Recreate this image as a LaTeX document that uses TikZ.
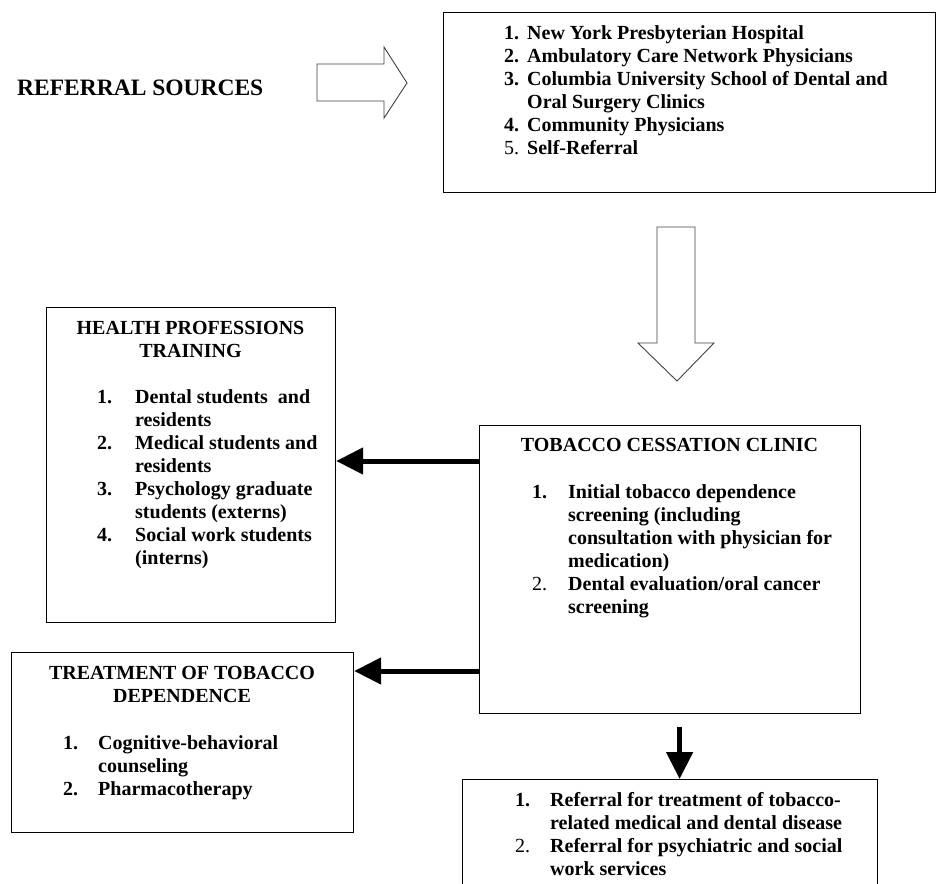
\documentclass[tikz,border=0pt]{standalone}
\usepackage{fontspec}
\setmainfont{Liberation Serif}
\usetikzlibrary{arrows.meta}

\begin{document}
\begin{tikzpicture}[
    x=1pt, y=-1pt,
    box/.style={draw, line width=1.2pt, minimum width=#1, anchor=north west, inner sep=0pt},
    txt/.style={inner sep=0pt, font=\fontsize{20}{23}\selectfont\bfseries},
    heavy/.style={line width=5pt, -{Triangle[length=27pt,width=26pt]}},
    hollow/.style={draw=black!75, line width=0.9pt, line join=miter}
]
\useasboundingbox (0,0) rectangle (938,884);
\clip (0,0) rectangle (938,884);

% Referral sources
\node[txt, anchor=base west, font=\fontsize{23.5}{27}\selectfont\bfseries] (srctitle) at (17,95) {REFERRAL SOURCES};
\draw[hollow] (317,64) -- (384,64) -- (384,47) -- (407,83) -- (384,118) -- (384,101) -- (317,101) -- cycle;
\node[box=492pt, minimum height=180pt] (src) at (443,12) {};
\node[txt, anchor=base west] (srclist) at (504,39) {\begin{tabular}[t]{@{}p{23pt}@{}l@{}}
1. & New York Presbyterian Hospital\\
2. & Ambulatory Care Network Physicians\\
3. & Columbia University School of Dental and\\
   & Oral Surgery Clinics\\
4. & Community Physicians\\
\textmd{5.} & Self-Referral
\end{tabular}};
\draw[hollow] (657,227) -- (695,227) -- (695,343) -- (714,343) -- (677,381) -- (638,343) -- (657,343) -- cycle;

% Health professions training
\node[box=289pt, minimum height=315pt] (health) at (46,307) {};
\node[txt, anchor=base] (healthtitle) at (190.5,334) {\begin{tabular}[t]{@{}c@{}}
HEALTH PROFESSIONS\\ TRAINING\end{tabular}};
\node[txt, anchor=base west] (healthlist) at (97,403) {\begin{tabular}[t]{@{}p{38pt}@{}l@{}}
1. & Dental students\ \ and\\
   & residents\\
2. & Medical students and\\
   & residents\\
3. & Psychology graduate\\
   & students (externs)\\
4. & Social work students\\
   & (interns)
\end{tabular}};

% Tobacco cessation clinic
\node[box=381pt, minimum height=288pt] (clinic) at (479,425) {};
\node[txt, anchor=base] (clinictitle) at (669.5,451) {TOBACCO CESSATION CLINIC};
\node[txt, anchor=base west] (cliniclist) at (532,498) {\begin{tabular}[t]{@{}p{36pt}@{}l@{}}
1. & Initial tobacco dependence\\
   & screening (including\\
   & consultation with physician for\\
   & medication)\\
\textmd{2.} & Dental evaluation/oral cancer\\
   & screening
\end{tabular}};

% Treatment of tobacco dependence
\node[box=342pt, minimum height=180pt] (treat) at (11,652) {};
\node[txt, anchor=base] (treattitle) at (182,679) {\begin{tabular}[t]{@{}c@{}}
TREATMENT OF TOBACCO\\ DEPENDENCE\end{tabular}};
\node[txt, anchor=base west] (treatlist) at (63,749) {\begin{tabular}[t]{@{}p{35pt}@{}l@{}}
1. & Cognitive-behavioral\\
   & counseling\\
2. & Pharmacotherapy
\end{tabular}};

% Further referral
\node[box=415pt, minimum height=120pt] (refer) at (462,779) {};
\node[txt, anchor=base west] (referlist) at (515,806) {\begin{tabular}[t]{@{}p{35pt}@{}l@{}}
1. & Referral for treatment of tobacco-\\
   & related medical and dental disease\\
\textmd{2.} & Referral for psychiatric and social\\
   & work services
\end{tabular}};

% Connectors
\coordinate (healthin) at ([yshift=-154pt]health.north east);
\coordinate (treatin) at ([yshift=-19pt]treat.north east);
\coordinate (referin) at ([xshift=9.5pt]refer.north);
\draw[heavy] (clinic.west |- healthin) -- (healthin);
\draw[heavy] (clinic.west |- treatin) -- (treatin);
\draw[heavy] ([yshift=-13pt]clinic.south -| referin) -- (referin);
\end{tikzpicture}
\end{document}
